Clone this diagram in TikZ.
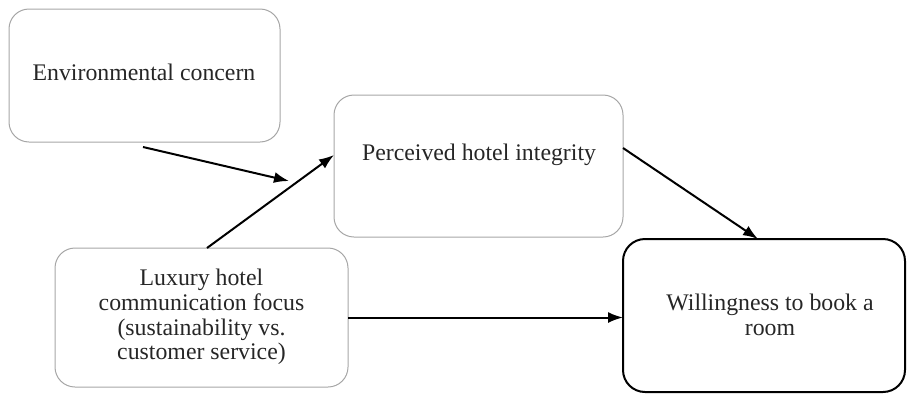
\documentclass[tikz,border=0pt]{standalone}
\usepackage{fontspec}
\setmainfont{Liberation Serif}
\usetikzlibrary{arrows.meta}
\definecolor{boxgray}{HTML}{A6A6A6}
\definecolor{inkgray}{HTML}{262626}
\begin{document}
\begin{tikzpicture}[x=1pt,y=-1pt,
  every node/.style={inner sep=0pt,outer sep=0pt},
  lightbox/.style={draw=boxgray,line width=1pt,rounded corners=20pt,rectangle},
  heavybox/.style={draw=black,line width=2pt,rounded corners=22pt,rectangle},
  caption/.style={text=inkgray,align=center,
    font=\fontsize{23.8}{24.6}\selectfont},
  link/.style={draw=black,line width=2pt,-{Latex[length=15pt,width=11pt]}}]
\useasboundingbox (0,0) rectangle (907,394);

% boxes
\node[lightbox,minimum width=271pt,minimum height=133pt] (env)  at (144.5,75.5) {};
\node[lightbox,minimum width=289pt,minimum height=142pt] (pi)   at (478.5,166) {};
\node[heavybox,minimum width=282pt,minimum height=153pt] (will) at (764,315.5) {};
\node[lightbox,minimum width=293pt,minimum height=139pt] (lux)  at (201.5,317.5) {};

% labels
\node[caption] (envt)  at (144,72)  {Environmental concern};
\node[caption] (pit)   at (479,155) {Perceived hotel integrity};
\node[caption] (willt) at (770,315) {Willingness to book a\\room};
\node[caption] (luxt)  at (201.5,317) {Luxury hotel\\communication focus\\(sustainability vs.\\customer service)};

% moderating arrow, pointing onto the main path
\coordinate (modstart) at (143,147);
\coordinate (modend)   at (289,181);
\draw[link] (modstart) -- (modend);

% paths between constructs
\draw[link] ([xshift=5.5pt]lux.north) -- ([yshift=11pt]pi.west);
\draw[link] ([yshift=18pt]pi.east) -- ([xshift=-6pt]will.north);
\draw[link] (lux.east) -- (lux.east -| will.west);
\end{tikzpicture}
\end{document}
